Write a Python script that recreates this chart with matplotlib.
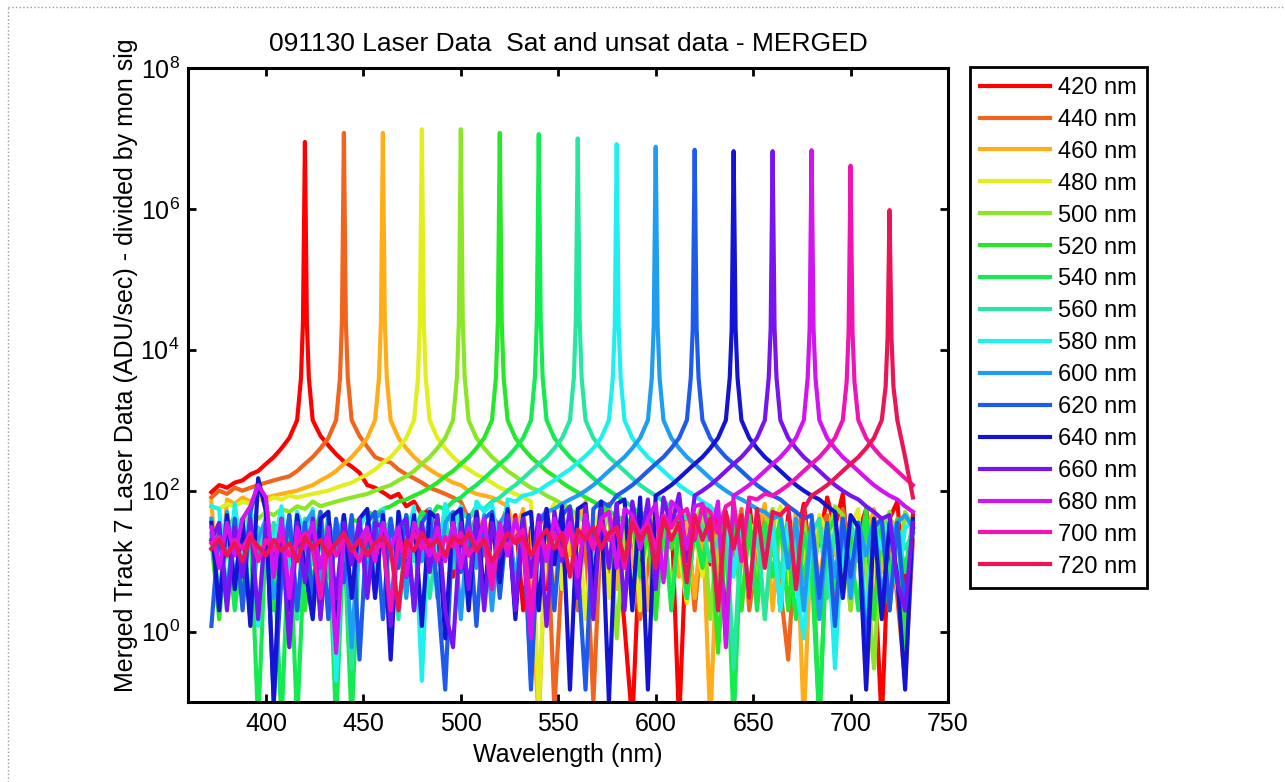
import numpy as np
import matplotlib
matplotlib.use('Agg')
import matplotlib.pyplot as plt
from matplotlib.lines import Line2D

plt.rcParams['font.family'] = ['Liberation Sans', 'DejaVu Sans']

# wavelength grid of the merged spectra (nm)
wavelength = np.arange(372, 733, 4)
laser_nm = [420, 440, 460, 480, 500, 520, 540, 560, 580, 600, 620, 640, 660, 680, 700, 720]
line_colors = ['#ff0000', '#f0641e', '#ffae1a', '#e2ee1e', '#8ce628', '#28e628', '#14eb50', '#28e6a0',
               '#1ef0f0', '#1e9ef0', '#1e5aeb', '#1414d2', '#7814f0', '#d214f0', '#f014b4', '#eb1455']

# extra samples right next to each laser line (offset in nm from the line)
near_offset = [-2, -1, 1, 2]
near_peak = [
    [4000, 25000, 25000, 4000], [4000, 25000, 25000, 4000], [4000, 25000, 25000, 4000],
    [4000, 25000, 25000, 4000], [4000, 25000, 25000, 4000], [4000, 25000, 25000, 4000],
    [4000, 25000, 25000, 4000], [4000, 25000, 25000, 4000], [4000, 22000, 22000, 4000],
    [4000, 22000, 22000, 4000], [4000, 20000, 20000, 4000], [4000, 20000, 20000, 4000],
    [4000, 20000, 20000, 4000], [4000, 20000, 20000, 4000], [3500, 18000, 18000, 3500],
    [3000, 15000, 15000, 3000],
]

# ADU/sec on the 4 nm grid, one list per laser line
spec_420 = [95, 120, 110, 130, 140, 170, 190, 240, 300, 400,
            560, 1000, 8.9e6, 1000, 600, 440, 330, 260, 220, 180,
            120, 110, 95, 80, 90, 60, 70, 45, 55, 18,
            40, 6, 35, 12, 50, 3, 30, 8, 25, 45,
            2, 30, 15, 4, 35, 9, 28, 4, 40, 20,
            55, 7, 25, 1.2, 0.05, 20, 45, 5, 25, 60,
            0.05, 30, 3, 25, 9, 50, 1.5, 28, 15, 70,
            6, 12, 40, 2, 45, 18, 65, 8, 20, 80,
            30, 90, 4, 25, 55, 10, 0.05, 40, 70, 3,
            45]
spec_440 = [80, 100, 90, 110, 100, 110, 120, 130, 140, 150,
            160, 190, 240, 300, 400, 560, 1000, 1.2e7, 1000, 600,
            420, 300, 270, 250, 200, 170, 150, 130, 110, 100,
            90, 80, 70, 40, 55, 12, 45, 30, 60, 4,
            35, 2, 30, 55, 0.08, 8, 35, 2, 25, 0.1,
            30, 65, 6, 35, 15, 1.5, 8, 50, 25, 3,
            18, 45, 2, 28, 60, 5, 30, 12, 55, 2,
            12, 40, 20, 4, 0.4, 25, 50, 7, 30, 45,
            2, 55, 15, 30, 6, 40, 12, 30, 3, 0.2,
            20]
spec_460 = [70, 2, 75, 65, 80, 70, 90, 80, 85, 90,
            95, 100, 110, 120, 140, 160, 190, 240, 300, 400,
            560, 1000, 1.2e7, 1000, 560, 400, 300, 240, 200, 170,
            150, 130, 120, 100, 90, 85, 80, 70, 60, 25,
            55, 5, 0.05, 40, 3, 50, 12, 35, 70, 1.5,
            30, 45, 4, 35, 9, 55, 2, 30, 12, 60,
            6, 35, 3, 45, 0.05, 30, 8, 40, 15, 3,
            25, 65, 2, 35, 10, 50, 0.05, 30, 5, 35,
            12, 40, 2, 30, 20, 55, 7, 40, 30, 1.5,
            35]
spec_480 = [60, 55, 65, 60, 70, 65, 75, 70, 80, 75,
            85, 80, 85, 90, 95, 100, 110, 120, 130, 150,
            170, 200, 250, 300, 400, 560, 1000, 1.35e7, 1000, 560,
            400, 300, 240, 200, 170, 150, 130, 110, 100, 90,
            80, 70, 0.08, 40, 65, 4, 35, 50, 1.5, 30,
            55, 3, 35, 12, 45, 2, 30, 60, 8, 35,
            15, 2.5, 30, 6, 50, 2, 30, 45, 10, 35,
            25, 1.5, 30, 60, 5, 35, 15, 3, 45, 25,
            35, 4, 30, 55, 0.15, 9, 30, 2, 35, 45,
            25]
spec_500 = [25, 2, 30, 40, 35, 45, 40, 50, 45, 55,
            50, 60, 55, 70, 60, 65, 70, 75, 80, 85,
            90, 100, 110, 120, 140, 160, 190, 240, 300, 400,
            560, 1000, 1.35e7, 1000, 560, 400, 300, 240, 190, 160,
            130, 110, 100, 85, 75, 65, 55, 45, 35, 8,
            20, 55, 0.8, 30, 4, 15, 60, 2, 40, 3,
            30, 7, 35, 65, 1.5, 30, 12, 40, 2, 35,
            5, 30, 55, 2, 35, 10, 40, 3, 30, 20,
            60, 45, 2, 30, 8, 0.3, 25, 50, 4, 50,
            30]
spec_520 = [20, 1.5, 25, 45, 4, 35, 10, 30, 2, 40,
            8, 30, 2, 20, 50, 6, 30, 12, 40, 35,
            50, 45, 55, 60, 70, 75, 85, 95, 110, 130,
            160, 190, 240, 300, 400, 560, 1000, 1.2e7, 1000, 560,
            400, 300, 240, 190, 160, 130, 110, 95, 80, 70,
            60, 50, 45, 35, 40, 6, 30, 1.5, 35, 15,
            40, 3, 30, 8, 50, 0.5, 25, 40, 2, 30,
            3, 35, 12, 40, 2, 30, 5, 35, 0.05, 25,
            40, 3, 30, 10, 55, 1.5, 30, 6, 40, 0.6,
            30]
spec_540 = [15, 35, 25, 2, 20, 30, 0.05, 25, 15, 0.05,
            30, 0.05, 20, 5, 20, 30, 0.05, 25, 0.05, 30,
            15, 40, 30, 35, 10, 45, 25, 50, 40, 60,
            55, 70, 80, 100, 120, 150, 190, 240, 300, 400,
            560, 1000, 1.15e7, 1000, 560, 400, 300, 240, 190, 150,
            120, 100, 85, 70, 60, 45, 50, 8, 40, 2,
            35, 3, 30, 9, 40, 3, 30, 0.05, 25, 45,
            2, 30, 6, 40, 15, 1.5, 25, 8, 0.05, 30,
            4, 35, 15, 2, 40, 12, 35, 2, 30, 7,
            40]
spec_560 = [25, 3, 30, 15, 40, 2, 30, 12, 35, 4,
            30, 1.5, 40, 9, 30, 2, 35, 25, 0.3, 30,
            6, 35, 15, 40, 1.5, 30, 10, 40, 3, 20,
            45, 8, 50, 40, 60, 55, 70, 80, 100, 120,
            150, 190, 240, 300, 400, 560, 1000, 1.0e7, 1000, 560,
            400, 300, 240, 190, 150, 120, 100, 85, 70, 60,
            50, 40, 45, 30, 10, 20, 40, 0.3, 30, 4,
            35, 1.5, 30, 6, 35, 15, 2, 25, 40, 3,
            30, 8, 35, 15, 1.2, 25, 40, 3, 30, 15,
            25]
spec_580 = [60, 55, 3, 65, 8, 60, 1.2, 55, 15, 60,
            4, 50, 25, 55, 2, 50, 0.2, 45, 10, 30,
            50, 6, 55, 1.5, 50, 20, 60, 0.2, 55, 9,
            65, 30, 60, 3, 70, 50, 65, 12, 75, 70,
            85, 90, 100, 120, 140, 170, 200, 250, 310, 400,
            560, 1000, 8.3e6, 1000, 560, 400, 300, 240, 190, 150,
            120, 100, 85, 70, 60, 45, 50, 6, 40, 3,
            35, 12, 30, 2, 35, 5, 0.8, 30, 2, 35,
            0.3, 30, 8, 35, 1.5, 30, 15, 40, 4, 30,
            35]
spec_600 = [40, 2, 50, 5, 35, 1.5, 20, 40, 3, 8,
            45, 2, 35, 50, 4, 40, 12, 45, 0.6, 35,
            6, 40, 50, 2, 35, 3, 40, 10, 45, 3,
            35, 50, 1.5, 40, 8, 45, 2, 35, 50, 5,
            45, 0.2, 40, 50, 55, 65, 75, 85, 100, 120,
            150, 190, 240, 300, 400, 560, 1000, 7.6e6, 1000, 560,
            400, 300, 240, 190, 150, 120, 100, 85, 75, 65,
            55, 50, 40, 45, 8, 40, 2, 35, 1.5, 30,
            6, 40, 3, 35, 12, 40, 3, 20, 35, 45,
            30]
spec_620 = [1.2, 30, 3, 40, 2, 50, 130, 60, 0.1, 6,
            45, 2, 35, 3, 50, 1.5, 40, 5, 45, 0.4,
            35, 50, 1.5, 40, 8, 45, 2, 35, 50, 4,
            0.15, 40, 7, 45, 1.2, 40, 50, 3, 45, 2,
            40, 0.15, 35, 50, 2, 45, 60, 9, 0.15, 55,
            70, 60, 85, 100, 120, 150, 190, 240, 300, 400,
            560, 1000, 6.9e6, 1000, 560, 400, 300, 240, 190, 150,
            120, 100, 85, 75, 60, 50, 40, 45, 3, 35,
            1.2, 40, 6, 35, 0.5, 30, 40, 2, 35, 2,
            30]
spec_640 = [35, 2, 45, 4, 40, 1.2, 150, 50, 0.1, 40,
            2, 45, 8, 1.5, 40, 50, 1.5, 45, 3, 40,
            55, 3, 45, 0.4, 50, 6, 45, 1.2, 50, 40,
            0.8, 45, 55, 2, 50, 3, 45, 5, 55, 1.5,
            45, 50, 2, 55, 9, 60, 0.15, 55, 65, 4,
            70, 0.1, 65, 75, 2, 80, 0.15, 85, 100, 120,
            150, 190, 240, 300, 400, 560, 1000, 6.6e6, 1000, 560,
            400, 300, 240, 190, 150, 120, 100, 85, 75, 60,
            50, 3, 45, 30, 0.15, 40, 1.5, 35, 6, 0.15,
            40]
spec_660 = [20, 35, 2, 30, 6, 40, 1.5, 35, 12, 30,
            0.6, 35, 5, 40, 1.5, 30, 3, 35, 9, 40,
            3, 35, 30, 1.2, 30, 40, 2, 35, 7, 45,
            2, 0.6, 35, 4, 40, 2, 35, 12, 45, 2,
            40, 6, 45, 1.2, 50, 10, 55, 3, 60, 1.5,
            55, 8, 65, 2, 70, 15, 75, 4, 80, 30,
            90, 10, 85, 100, 120, 150, 190, 240, 300, 400,
            560, 1000, 6.6e6, 1000, 560, 400, 300, 240, 190, 150,
            120, 100, 85, 75, 60, 50, 40, 45, 5, 2,
            35]
spec_680 = [30, 8, 35, 12, 40, 60, 120, 80, 6, 40,
            3, 30, 15, 35, 8, 30, 0.5, 25, 15, 20,
            30, 10, 35, 15, 30, 6, 35, 20, 12, 30,
            10, 35, 8, 30, 15, 40, 6, 35, 12, 40,
            15, 0.8, 35, 10, 40, 20, 35, 6, 45, 15,
            40, 50, 8, 55, 45, 15, 40, 65, 5, 70,
            55, 15, 60, 65, 20, 70, 0.6, 85, 100, 120,
            150, 190, 240, 300, 400, 560, 1000, 6.8e6, 1000, 560,
            400, 300, 240, 190, 150, 120, 100, 85, 75, 60,
            50]
spec_700 = [18, 22, 12, 20, 15, 25, 10, 20, 14, 22,
            12, 18, 25, 15, 3, 20, 12, 22, 16, 10,
            24, 14, 18, 2, 20, 12, 25, 15, 20, 10,
            22, 16, 25, 12, 18, 20, 4, 25, 15, 22,
            28, 2, 20, 15, 25, 12, 28, 18, 30, 15,
            35, 20, 30, 8, 40, 25, 35, 15, 45, 30,
            45, 55, 20, 60, 50, 25, 60, 70, 10, 80,
            75, 90, 85, 100, 120, 150, 190, 240, 300, 400,
            560, 1000, 4.1e6, 1000, 560, 400, 300, 240, 190, 150,
            120]
spec_720 = [15, 20, 12, 18, 10, 22, 16, 12, 20, 14,
            18, 10, 22, 15, 20, 12, 18, 25, 14, 20,
            12, 18, 22, 15, 2, 20, 14, 25, 16, 20,
            12, 22, 18, 25, 14, 20, 10, 15, 25, 18,
            22, 12, 20, 28, 15, 25, 6, 28, 20, 30,
            15, 25, 30, 10, 35, 20, 30, 8, 40, 20,
            35, 5, 45, 20, 40, 2, 50, 15, 45, 3,
            55, 8, 50, 45, 60, 4, 55, 85, 100, 120,
            150, 190, 240, 300, 400, 560, 1000, 9.6e5, 1000, 300,
            80]

spectra = [spec_420, spec_440, spec_460, spec_480, spec_500, spec_520, spec_540, spec_560,
           spec_580, spec_600, spec_620, spec_640, spec_660, spec_680, spec_700, spec_720]

fig = plt.figure(figsize=(12.85, 7.82), dpi=100)
ax = fig.add_axes([188 / 1285, 1 - 702 / 782, (948 - 188) / 1285, (702 - 68) / 782])

for nm, spec, near, col in zip(laser_nm, spectra, near_peak, line_colors):
    assert len(spec) == len(wavelength), nm
    x = np.concatenate([wavelength, nm + np.array(near_offset)])
    y = np.concatenate([np.array(spec, dtype=float), np.array(near, dtype=float)])
    order = np.argsort(x)
    ax.plot(x[order], y[order], color=col, lw=3, label=f'{nm} nm')

ax.set_yscale('log')
ax.set_xlim(360, 750)
ax.set_ylim(0.1, 1e8)
ax.set_xticks(range(400, 751, 50))
ax.set_yticks([1e0, 1e2, 1e4, 1e6, 1e8])
ax.minorticks_off()
ax.tick_params(direction='in', top=True, right=True, length=6, width=2, labelsize=18, pad=7)
ax.tick_params(axis='y', pad=6)
for s in ax.spines.values():
    s.set_linewidth(2.2)

ax.set_title('091130 Laser Data  Sat and unsat data - MERGED', fontsize=19, pad=12)
ax.set_xlabel('Wavelength (nm)', fontsize=18, labelpad=5)
ax.set_ylabel('Merged Track 7 Laser Data (ADU/sec) - divided by mon sig', fontsize=18)
ax.yaxis.set_label_coords(-0.066, 0.531)

leg = ax.legend(loc='upper left', bbox_to_anchor=(970 / 1285, 1 - 67 / 782), bbox_transform=fig.transFigure,
                fontsize=17, handlelength=2.95, handletextpad=0.35, labelspacing=0.42, borderpad=0.42,
                borderaxespad=0, fancybox=False, edgecolor='black', framealpha=1)
leg.get_frame().set_linewidth(2)

# dotted page border
fig.add_artist(Line2D([8 / 1285, 1], [1 - 7 / 782] * 2, transform=fig.transFigure, ls=':', color='#999999', lw=1))
fig.add_artist(Line2D([8 / 1285] * 2, [0, 1 - 7 / 782], transform=fig.transFigure, ls=':', color='#999999', lw=1))

fig.savefig('out.png', dpi=100)
